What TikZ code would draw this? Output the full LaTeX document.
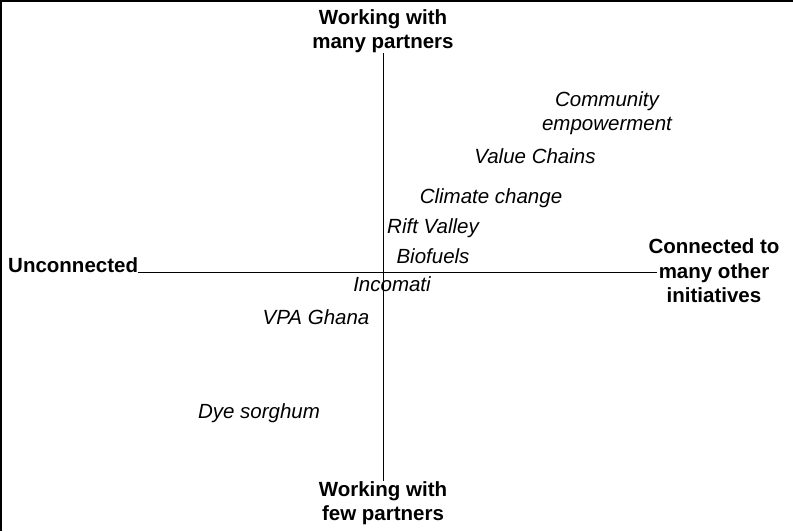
\documentclass[tikz,border=0pt]{standalone}
\usepackage{fontspec}
\setmainfont{Liberation Sans}
\begin{document}
\begin{tikzpicture}[x=1pt,y=-1pt,
  lab/.style={font=\fontsize{20.5}{24.5}\selectfont\itshape, inner sep=0pt, align=center},
  head/.style={font=\fontsize{20.5}{24.5}\selectfont\bfseries, inner sep=0pt, align=center},
  axis/.style={line width=0.8pt}]
\useasboundingbox (0,0) rectangle (793,531);
\draw[line width=2pt] (1,531) -- (1,1) -- (793,1);
% headings
\node[head] (top) at (383,31) {Working with\\many partners};
\node[head] (bot) at (383,503) {Working with\\few partners};
\node[head, anchor=base west] (uncon) at (8,272) {Unconnected};
\node[head] (conn) at (714,271) {Connected to\\many other\\initiatives};
\coordinate (hr) at (657,272);
% axes
\draw[axis] (top.south) -- (bot.north);
\draw[axis] (uncon.base east) -- (hr);
% initiatives
\node[lab] (comm) at (607,113) {Community\\empowerment};
\node[lab] (vc) at (535,156) {Value Chains};
\node[lab] (cc) at (491,198) {Climate change};
\node[lab] (rv) at (433,228) {Rift Valley};
\node[lab] (bf) at (433,256) {Biofuels};
\node[lab] (inc) at (392,284) {Incomati};
\node[lab] (vpa) at (316,317) {VPA Ghana};
\node[lab] (dye) at (259,413) {Dye sorghum};
\end{tikzpicture}
\end{document}
